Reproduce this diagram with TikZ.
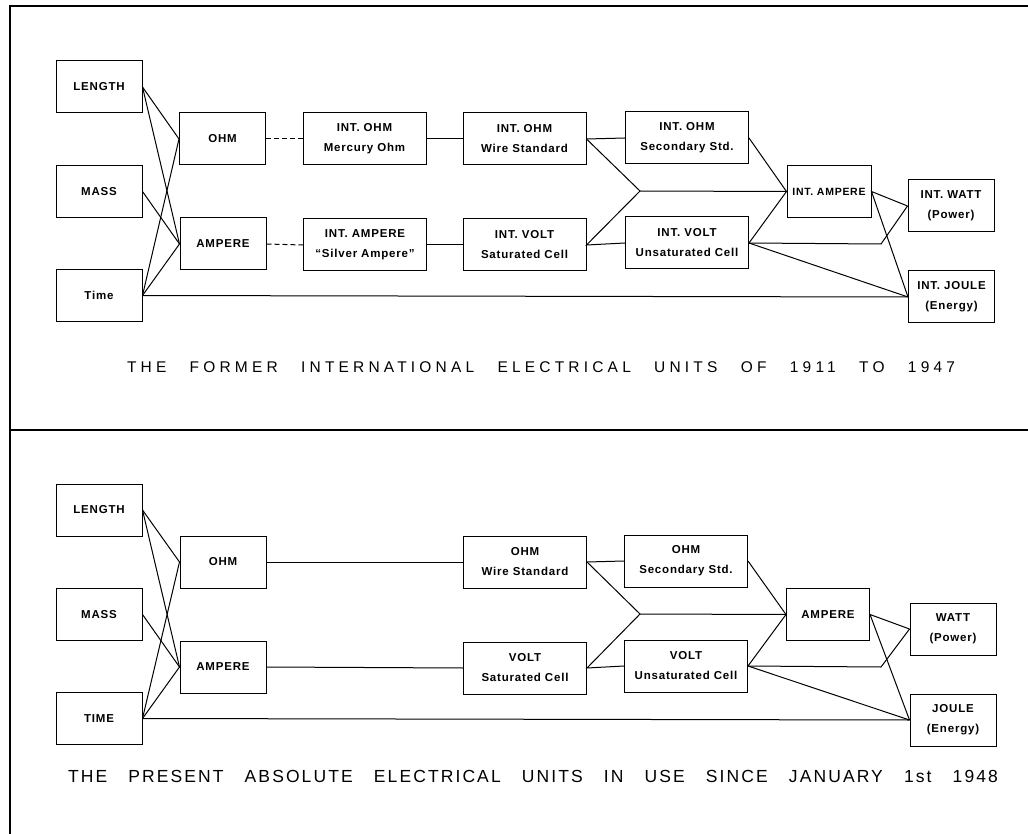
\documentclass[tikz,border=0pt]{standalone}
\usepackage{fontspec}
\newfontfamily\leroy[LetterSpace=7]{Liberation Sans}
\newfontfamily\leroycap[LetterSpace=27]{Liberation Sans}
\newfontfamily\leroylow[LetterSpace=12]{Liberation Sans}
\newcommand*{\panelShift}{423}

\tikzset{
  unit/.style={draw, line width=1pt, inner sep=1pt, align=center,
    minimum height=52pt, font=\leroy\bfseries\fontsize{11.5}{20}\selectfont},
  base/.style={unit, minimum width=86pt},
  wide/.style={unit, minimum width=123pt},
  link/.style={line width=1pt},
  weak/.style={link, dash pattern=on 5pt off 3pt},
  frame/.style={line width=2.5pt},
  caption/.style={inner sep=0pt, font=\leroycap\fontsize{15.5}{18}\selectfont},
}

\begin{document}
\begin{tikzpicture}[x=1pt,y=-1pt]
    \useasboundingbox (0,0) rectangle (1028,834);

    % frame
    \draw [frame] (1028,6) -- (10,6) -- (10,834);
    \draw [frame] (10,430) -- (1028,430);

    % former international units
    \node [base] (len)   at (99,87)    {LENGTH};
    \node [base] (mass)  at (99,191.5) {MASS};
    \node [base] (time)  at (99,295.5) {Time};
    \node [base] (ohm)   at (222.5,139) {OHM};
    \node [base] (amp)   at (223,244)   {AMPERE};
    \node [wide] (merc)  at (364.5,139) {INT. OHM\\Mercury  Ohm};
    \node [wide] (silv)  at (365,245)   {INT. AMPERE\\“Silver Ampere”};
    \node [wide] (wire)  at (524.5,139) {INT. OHM\\Wire  Standard};
    \node [wide] (sat)   at (524.5,245) {INT.  VOLT\\Saturated  Cell};
    \node [wide] (sec)   at (687,138)   {INT. OHM\\Secondary  Std.};
    \node [wide] (unsat) at (687,243)   {INT.  VOLT\\Unsaturated Cell};
    \node [base, minimum width=84pt, inner sep=0pt,
           font=\leroy\bfseries\fontsize{10.5}{20}\selectfont] (iamp) at (829,191.5) {INT. AMPERE};
    \node [base] (watt)  at (951,206)   {INT.  WATT\\(Power)};
    \node [base] (joule) at (951.5,297) {INT.  JOULE\\(Energy)};
    \coordinate (junc) at (640,191);
    \coordinate (bend) at (881,244);

    \foreach \a/\b in {len/ohm,len/amp,mass/amp,time/ohm,time/amp} {
        \draw [link] (\a.east) -- (\b.west);
        }
    \draw [weak] (ohm.east) -- (merc.west);
    \draw [weak] (amp.east) -- (silv.west);
    \draw [link] (merc.east) -- (wire.west);
    \draw [link] (silv.east) -- (sat.west);
    \draw [link] (wire.east) -- (sec.west);
    \draw [link] (wire.east) -- (junc) -- (sat.east) -- (unsat.west);
    \draw [link] (junc) -- (iamp.west);
    \draw [link] (sec.east) -- (iamp.west) -- (unsat.east);
    \draw [link] (unsat.east) -- (bend) -- (watt.west);
    \draw [link] (unsat.east) -- (joule.west);
    \draw [link] (watt.west) -- (iamp.east) -- (joule.west);
    \draw [link] (time.east) -- (joule.west);

    \node [caption] (capA) at (541,367)
        {\makebox[828pt][s]{THE FORMER INTERNATIONAL ELECTRICAL UNITS OF 1911 TO 1947}};

    % present absolute units
    \begin{scope}[yshift=-\panelShift pt, name prefix=b-]
    \node [base] (len)   at (99,87)    {LENGTH};
    \node [base] (mass)  at (99,191.5) {MASS};
    \node [base] (time)  at (99,295.5) {TIME};
    \node [base] (ohm)   at (223,139)  {OHM};
    \node [base] (amp)   at (223,244)  {AMPERE};
    \node [wide] (wire)  at (525,139)  {OHM\\Wire  Standard};
    \node [wide] (sat)   at (525,245)  {VOLT\\Saturated  Cell};
    \node [wide] (sec)   at (686,138)  {OHM\\Secondary  Std.};
    \node [wide] (unsat) at (686,243)  {VOLT\\Unsaturated Cell};
    \node [base, minimum width=83pt] (iamp) at (828,191.5) {AMPERE};
    \node [base] (watt)  at (953,206)  {WATT\\(Power)};
    \node [base] (joule) at (953,297)  {JOULE\\(Energy)};
    \coordinate (junc) at (640,191);
    \coordinate (bend) at (881,244);

    \foreach \a/\b in {len/ohm,len/amp,mass/amp,time/ohm,time/amp} {
        \draw [link] (\a.east) -- (\b.west);
        }
    \draw [link] (ohm.east) -- (wire.west);
    \draw [link] (amp.east) -- (sat.west);
    \draw [link] (wire.east) -- (sec.west);
    \draw [link] (wire.east) -- (junc) -- (sat.east) -- (unsat.west);
    \draw [link] (junc) -- (iamp.west);
    \draw [link] (sec.east) -- (iamp.west) -- (unsat.east);
    \draw [link] (unsat.east) -- (bend) -- (watt.west);
    \draw [link] (unsat.east) -- (joule.west);
    \draw [link] (watt.west) -- (iamp.east) -- (joule.west);
    \draw [link] (time.east) -- (joule.west);
    \end{scope}

    \node [caption, font=\leroylow\fontsize{17.5}{20}\selectfont] (capB) at (533,776)
        {\makebox[930pt][s]{THE PRESENT ABSOLUTE ELECTRICAL UNITS IN USE SINCE JANUARY 1st 1948}};

\end{tikzpicture}
\end{document}
